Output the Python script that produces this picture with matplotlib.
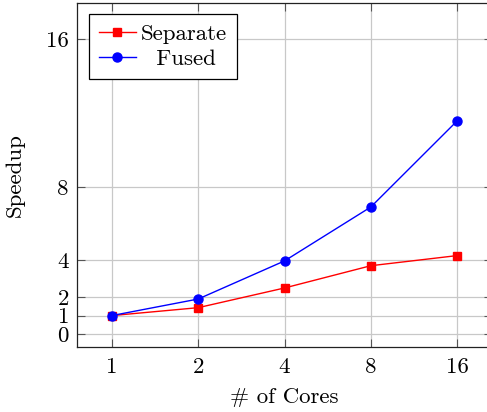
import matplotlib
matplotlib.use("Agg")
import matplotlib.pyplot as plt

# data
cores = ["1", "2", "4", "8", "16"]
separate = [1.0, 1.43, 2.5, 3.71, 4.26]
fused = [1.0, 1.9, 3.97, 6.9, 11.58]
y_ticks = [0, 1, 2, 4, 8, 16]

plt.rcParams["font.family"] = ["cmr10", "DejaVu Serif"]
plt.rcParams["mathtext.fontset"] = "cm"
plt.rcParams["axes.formatter.use_mathtext"] = True
plt.rcParams["font.size"] = 16.5

fig = plt.figure(figsize=(4.87, 4.12), dpi=100)
ax = fig.add_axes([0.1587, 0.1585, 0.851, 0.835])

xs = list(range(len(cores)))
ax.plot(xs, separate, color="red", marker="s", markersize=6, linewidth=1.0,
        label="Separate", zorder=3)
ax.plot(xs, fused, color="blue", marker="o", markersize=6.5, linewidth=1.0,
        label="  Fused", zorder=3)

ax.set_xlim(-0.4, 4.4)
ax.set_ylim(-0.69, 18.0)
ax.set_xticks(xs)
ax.set_xticklabels(cores)
ax.set_yticks(y_ticks)
ax.set_yticklabels([str(t) for t in y_ticks])

ax.grid(True, color="#c8c8c8", linewidth=0.9)
ax.set_axisbelow(True)
ax.tick_params(direction="in", top=True, right=True, length=6, width=0.8,
               color="#555555")
ax.tick_params(axis="y", pad=6)
ax.tick_params(axis="x", pad=8)
for s in ax.spines.values():
    s.set_color("#222222")
    s.set_linewidth(0.9)

ax.set_xlabel("# of Cores", labelpad=7)
ax.set_ylabel("Speedup", labelpad=15)

leg = ax.legend(loc="upper left", fancybox=False, edgecolor="black",
                framealpha=1, handlelength=1.6, borderaxespad=0.5,
                handletextpad=0.22, labelspacing=0.2, borderpad=0.45)
leg.get_frame().set_linewidth(0.9)

fig.savefig("out.png", dpi=100)
